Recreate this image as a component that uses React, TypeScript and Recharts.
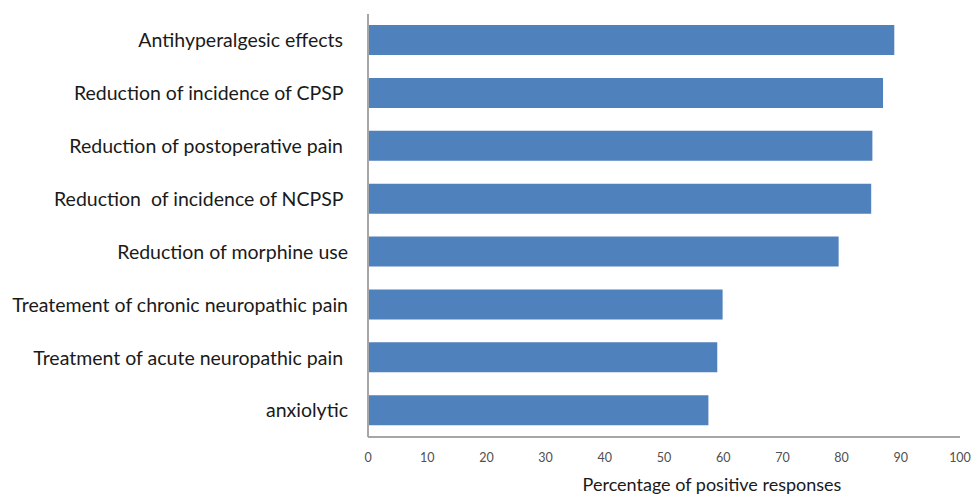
import React from 'react';
import { BarChart, Bar, XAxis, YAxis, Label } from 'recharts';

const categories = [
  'Antihyperalgesic effects ',
  'Reduction of incidence of CPSP ',
  'Reduction of postoperative pain ',
  'Reduction  of incidence of NCPSP ',
  'Reduction of morphine use',
  'Treatement of chronic neuropathic pain',
  'Treatment of acute neuropathic pain ',
  'anxiolytic',
];
const values = [88.9, 87.0, 85.2, 85.0, 79.5, 59.9, 59.0, 57.5];
const xTicks = [0, 10, 20, 30, 40, 50, 60, 70, 80, 90, 100];

const data = categories.map((name, i) => ({ name, value: values[i] }));

const FONT = 'Lato, "Open Sans", sans-serif';

const YTick = (props: any) => {
  const { x, y, payload } = props;
  return (
    <text
      x={x}
      y={y}
      dy="0.35em"
      textAnchor="end"
      fill="#1a1a1a"
      fontSize={19.5}
      fontFamily={FONT}
      style={{ whiteSpace: 'pre' }}
    >
      {payload.value}
    </text>
  );
};

export default function App() {
  return (
    <div style={{ position: 'absolute', left: 0, top: 0, background: '#fff' }}>
      <BarChart
        width={974}
        height={497}
        data={data}
        layout="vertical"
        margin={{ top: 14, right: 14, bottom: 10, left: 0 }}
        barSize={30}
      >
        <XAxis
          type="number"
          domain={[0, 100]}
          ticks={xTicks}
          tickLine={false}
          axisLine={{ stroke: '#a6a6a6', strokeWidth: 2 }}
          tick={{ fill: '#505050', fontSize: 12.5, fontFamily: FONT }}
          tickMargin={10}
          height={50}
          interval={0}
        >
          <Label
            value="Percentage of positive responses"
            position="insideBottom"
            offset={-4}
            dx={48}
            fill="#1a1a1a"
            fontSize={18}
            fontFamily={FONT}
          />
        </XAxis>
        <YAxis
          type="category"
          dataKey="name"
          width={368}
          tickLine={false}
          axisLine={{ stroke: '#a6a6a6', strokeWidth: 2 }}
          tick={<YTick />}
          tickMargin={14}
          interval={0}
        />
        <Bar dataKey="value" fill="#4f81bd" isAnimationActive={false} />
      </BarChart>
    </div>
  );
}
